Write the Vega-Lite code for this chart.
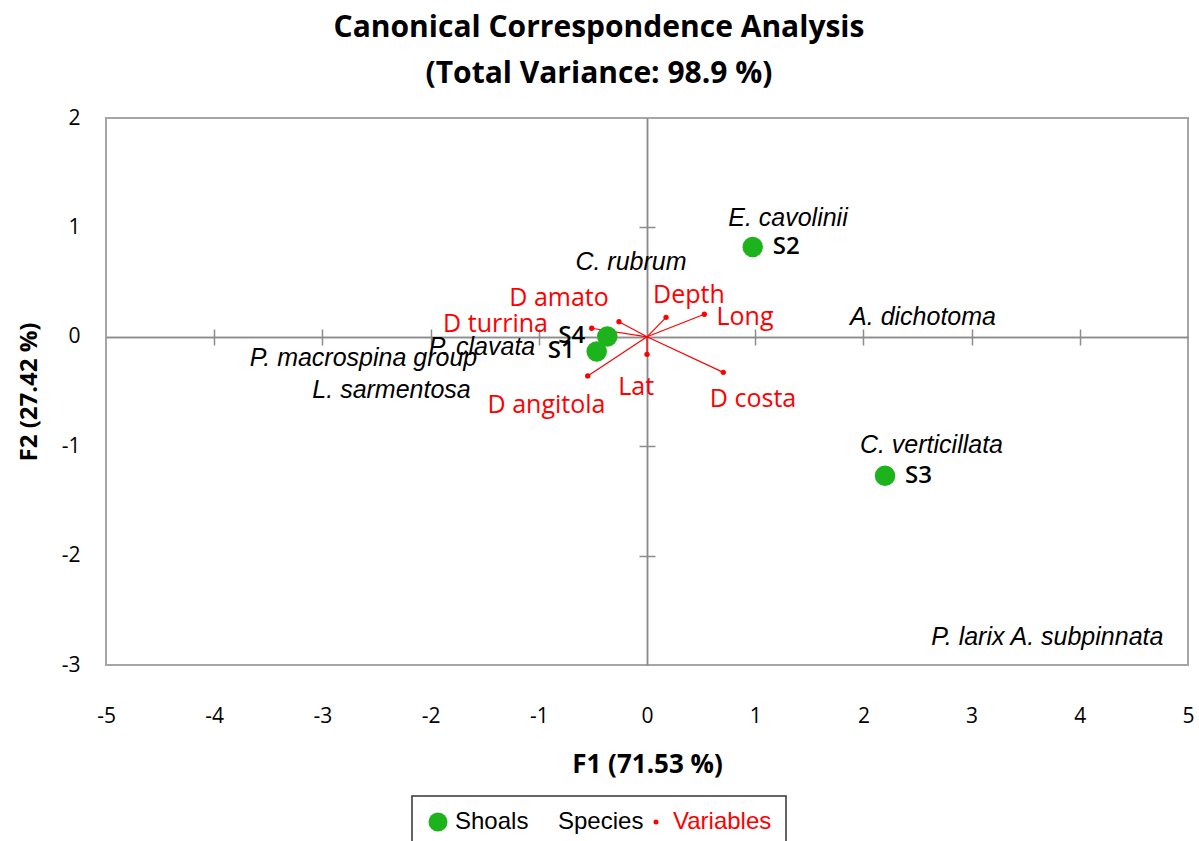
{
  "$schema": "https://vega.github.io/schema/vega-lite/v6.json",
  "width": 1082,
  "height": 547,
  "autosize": {"type": "none"},
  "padding": {"left": 106, "top": 118, "right": 11, "bottom": 176},
  "background": "white",
  "config": {
    "view": {"stroke": "#a6a6a6", "strokeWidth": 2},
    "font": "Open Sans",
    "legend": {
      "orient": "none",
      "legendX": 306,
      "legendY": 678,
      "direction": "horizontal",
      "strokeColor": "#333333",
      "strokeWidth": 1.5,
      "padding": 14,
      "labelFont": "Liberation Sans",
      "labelFontSize": 24,
      "labelOffset": 5,
      "columnPadding": 0,
      "symbolType": "circle",
      "title": null
    }
  },
  "title": {
    "text": ["Canonical Correspondence Analysis", "(Total Variance: 98.9 %)"],
    "font": "Open Sans",
    "fontSize": 30,
    "fontWeight": "bold",
    "color": "#000000",
    "lineHeight": 46,
    "anchor": "middle",
    "dx": -48,
    "offset": 18
  },
  "data": {
    "values": [
      {"name": "S1", "type": "Shoals", "x": -0.465, "y": -0.134},
      {"name": "S2", "type": "Shoals", "x": 0.977, "y": 0.82},
      {"name": "S3", "type": "Shoals", "x": 2.2, "y": -1.27},
      {"name": "S4", "type": "Shoals", "x": -0.367, "y": 0.003},
      {"name": "E. cavolinii", "type": "Species", "x": 1.303, "y": 1.088},
      {"name": "C. rubrum", "type": "Species", "x": -0.148, "y": 0.686},
      {"name": "A. dichotoma", "type": "Species", "x": 2.551, "y": 0.183},
      {"name": "P. macrospina group", "type": "Species", "x": -2.62, "y": -0.192},
      {"name": "P. clavata", "type": "Species", "x": -1.525, "y": -0.091},
      {"name": "L. sarmentosa", "type": "Species", "x": -2.361, "y": -0.484},
      {"name": "C. verticillata", "type": "Species", "x": 2.629, "y": -0.987},
      {"name": "P. larix A. subpinnata", "type": "Species", "x": 3.7, "y": -2.742},
      {"name": "Depth", "type": "Variables", "x": 0.176, "y": 0.178, "labelX": 0.388, "labelY": 0.384},
      {"name": "Long", "type": "Variables", "x": 0.53, "y": 0.206, "labelX": 0.906, "labelY": 0.183},
      {"name": "D costa", "type": "Variables", "x": 0.705, "y": -0.325, "labelX": 0.98, "labelY": -0.567},
      {"name": "Lat", "type": "Variables", "x": 0.0, "y": -0.16, "labelX": -0.1, "labelY": -0.457},
      {"name": "D angitola", "type": "Variables", "x": -0.548, "y": -0.358, "labelX": -0.929, "labelY": -0.62},
      {"name": "D turrina", "type": "Variables", "x": -0.511, "y": 0.078, "labelX": -1.4, "labelY": 0.119},
      {"name": "D amato", "type": "Variables", "x": -0.259, "y": 0.138, "labelX": -0.813, "labelY": 0.354}
    ]
  },
  "layer": [
    {
      "transform": [{"filter": "datum.type == 'Variables'"}],
      "mark": {"type": "rule", "color": "#ff0000", "strokeWidth": 1.2},
      "encoding": {
        "x": {
          "field": "x", "type": "quantitative",
          "scale": {"domain": [-5, 5], "nice": false, "zero": false},
          "axis": {
            "values": [-5, -4, -3, -2, -1, 0, 1, 2, 3, 4, 5],
            "labelExpr": "datum.value + ''",
            "domain": false, "ticks": false, "tickSize": 0, "grid": false,
            "labelPadding": 40, "labelFont": "Open Sans", "labelFontSize": 21,
            "labelColor": "#000000", "labelFlush": false, "labelOverlap": false,
            "title": "F1 (71.53 %)", "titleFont": "Open Sans", "titleFontSize": 26,
            "titleFontWeight": "bold", "titleColor": "#000000", "titlePadding": 25
          }
        },
        "y": {
          "field": "y", "type": "quantitative",
          "scale": {"domain": [-3, 2], "nice": false, "zero": false},
          "axis": {
            "values": [-3, -2, -1, 0, 1, 2],
            "labelExpr": "datum.value + ''",
            "domain": false, "ticks": false, "tickSize": 0, "grid": false,
            "labelPadding": 26, "labelFont": "Open Sans", "labelFontSize": 21,
            "labelColor": "#000000", "labelFlush": false, "labelOverlap": false,
            "title": "F2 (27.42 %)", "titleFont": "Open Sans", "titleFontSize": 24,
            "titleFontWeight": "bold", "titleColor": "#000000", "titlePadding": 20
          }
        },
        "x2": {"datum": 0},
        "y2": {"datum": 0}
      }
    },
    {
      "transform": [{"filter": "datum.type != 'Species'"}],
      "mark": {"type": "point", "filled": true, "opacity": 1, "shape": "circle", "strokeWidth": 0},
      "encoding": {
        "x": {
          "field": "x", "type": "quantitative",
          "scale": {"domain": [-5, 5], "nice": false, "zero": false},
          "axis": {
            "orient": "bottom", "offset": -328,
            "values": [-4, -3, -2, -1, 1, 2, 3, 4],
            "labels": false, "grid": false, "title": null,
            "domainColor": "#8c8c8c", "domainWidth": 1.5,
            "tickColor": "#8c8c8c", "tickWidth": 1.5, "tickSize": 8
          }
        },
        "y": {
          "field": "y", "type": "quantitative",
          "scale": {"domain": [-3, 2], "nice": false, "zero": false},
          "axis": {
            "orient": "left", "offset": -541,
            "values": [-2, -1, 1],
            "labels": false, "grid": false, "title": null,
            "domainColor": "#8c8c8c", "domainWidth": 1.5,
            "tickColor": "#8c8c8c", "tickWidth": 1.5, "tickSize": 8
          }
        },
        "color": {
          "field": "type", "type": "nominal",
          "scale": {"domain": ["Shoals", "Species", "Variables"], "range": ["#1db31d", "rgba(0,0,0,0)", "#ff0000"]},
          "legend": {
            "labelColor": {"expr": "datum.label == 'Variables' ? '#ff0000' : '#000000'"},
            "symbolSize": {"expr": "datum.label == 'Shoals' ? 360 : 25"}
          }
        },
        "size": {"condition": {"test": "datum.type == 'Shoals'", "value": 420}, "value": 28}
      }
    },
    {
      "transform": [{"filter": "datum.type == 'Species'"}],
      "mark": {"type": "text", "font": "Liberation Sans", "fontStyle": "italic", "fontSize": 25, "color": "#000000", "align": "center", "baseline": "middle"},
      "encoding": {
        "x": {
          "field": "x", "type": "quantitative",
          "scale": {"domain": [-5, 5], "nice": false, "zero": false},
          "axis": {
            "orient": "top", "offset": -219,
            "values": [-4, -3, -2, -1, 1, 2, 3, 4],
            "labels": false, "grid": false, "title": null,
            "domainColor": "#8c8c8c", "domainWidth": 1.5,
            "tickColor": "#8c8c8c", "tickWidth": 1.5, "tickSize": 8
          }
        },
        "y": {
          "field": "y", "type": "quantitative",
          "scale": {"domain": [-3, 2], "nice": false, "zero": false},
          "axis": {
            "orient": "right", "offset": -541,
            "values": [-2, -1, 1],
            "labels": false, "grid": false, "title": null,
            "domainColor": "#8c8c8c", "domainWidth": 1.5,
            "tickColor": "#8c8c8c", "tickWidth": 1.5, "tickSize": 8
          }
        },
        "text": {"field": "name"}
      }
    },
    {
      "transform": [{"filter": "datum.type == 'Variables'"}],
      "mark": {"type": "text", "font": "Open Sans", "fontSize": 25, "color": "#ff0000", "align": "center", "baseline": "middle"},
      "encoding": {
        "x": {"field": "labelX", "type": "quantitative", "scale": {"domain": [-5, 5], "nice": false, "zero": false}, "axis": null},
        "y": {"field": "labelY", "type": "quantitative", "scale": {"domain": [-3, 2], "nice": false, "zero": false}, "axis": null},
        "text": {"field": "name"}
      }
    },
    {
      "transform": [{"filter": "datum.name == 'S1' || datum.name == 'S4'"}],
      "mark": {"type": "text", "font": "Open Sans", "fontSize": 24, "fontWeight": 600, "color": "#000000", "align": "right", "baseline": "middle", "dx": -22},
      "encoding": {
        "x": {"field": "x", "type": "quantitative", "scale": {"domain": [-5, 5], "nice": false, "zero": false}, "axis": null},
        "y": {"field": "y", "type": "quantitative", "scale": {"domain": [-3, 2], "nice": false, "zero": false}, "axis": null},
        "text": {"field": "name"}
      }
    },
    {
      "transform": [{"filter": "datum.name == 'S2' || datum.name == 'S3'"}],
      "mark": {"type": "text", "font": "Open Sans", "fontSize": 24, "fontWeight": 600, "color": "#000000", "align": "left", "baseline": "middle", "dx": 20},
      "encoding": {
        "x": {"field": "x", "type": "quantitative", "scale": {"domain": [-5, 5], "nice": false, "zero": false}, "axis": null},
        "y": {"field": "y", "type": "quantitative", "scale": {"domain": [-3, 2], "nice": false, "zero": false}, "axis": null},
        "text": {"field": "name"}
      }
    }
  ],
  "resolve": {"axis": {"x": "independent", "y": "independent"}}
}
